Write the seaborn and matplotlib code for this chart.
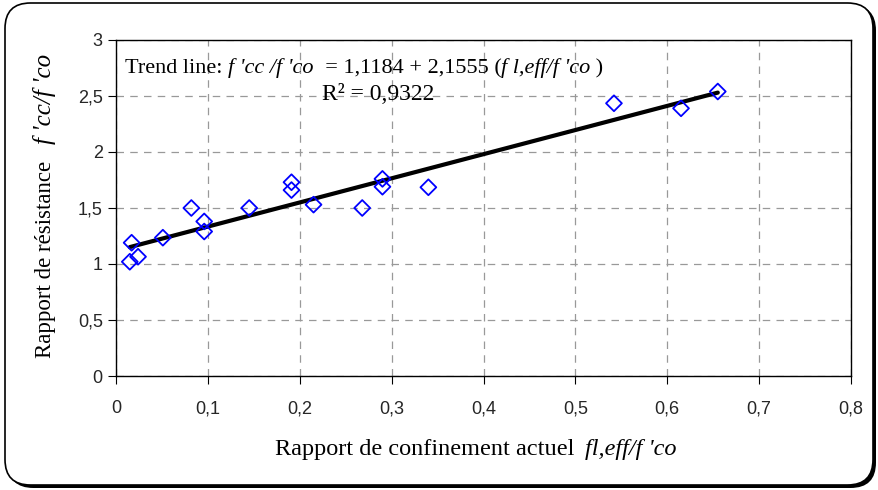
import numpy as np
import pandas as pd
import matplotlib
matplotlib.use("Agg")
import matplotlib.pyplot as plt
import seaborn as sns
from matplotlib.patches import FancyBboxPatch

# ------------------------------------------------------------------
# data
# ------------------------------------------------------------------
confinement = [0.015, 0.017, 0.024, 0.051, 0.082, 0.096, 0.096, 0.145,
               0.191, 0.191, 0.215, 0.268, 0.290, 0.290, 0.340, 0.542,
               0.615, 0.655]
resistance = [1.02, 1.19, 1.065, 1.235, 1.50, 1.38, 1.29, 1.50,
              1.73, 1.66, 1.53, 1.50, 1.76, 1.69, 1.685, 2.435,
              2.39, 2.54]
intercept = 1.1184
slope = 2.1555
r2 = "0,9322"

x_ticks = [0, 0.1, 0.2, 0.3, 0.4, 0.5, 0.6, 0.7, 0.8]
y_ticks = [0, 0.5, 1, 1.5, 2, 2.5, 3]

df = pd.DataFrame({"conf": confinement, "res": resistance})
x_fit = np.array([df["conf"].min(), df["conf"].max()])
fit = pd.DataFrame({"conf": x_fit, "res": intercept + slope * x_fit})

def virgule(v):
    return f"{v:g}".replace(".", ",")

# ------------------------------------------------------------------
# figure
# ------------------------------------------------------------------
sns.set_style("white")
plt.rcParams["font.family"] = ["Liberation Sans", "DejaVu Sans"]
serif = "Liberation Serif"

W, H = 879, 490
fig = plt.figure(figsize=(W / 100, H / 100), dpi=100)
ax = fig.add_axes([116 / W, 1 - 376 / H, 735 / W, 336 / H])

# rounded frame with a small shadow
rs = "round,pad=0,rounding_size=0.029"
shadow = FancyBboxPatch((8 / W, 1 - 488 / H), 868 / W, 483 / H,
                        boxstyle=rs, transform=fig.transFigure,
                        facecolor="black", edgecolor="none",
                        mutation_aspect=W / H, zorder=-2)
frame = FancyBboxPatch((5 / W, 1 - 485 / H), 868 / W, 482 / H,
                       boxstyle=rs, transform=fig.transFigure,
                       facecolor="white", edgecolor="black", linewidth=1.2,
                       mutation_aspect=W / H, zorder=-1)
fig.patches.extend([shadow, frame])

sns.lineplot(data=fit, x="conf", y="res", color="black", linewidth=3,
             ax=ax, zorder=3)
sns.scatterplot(data=df, x="conf", y="res", marker="D", s=65,
                facecolor="none", edgecolor="#0000ff", linewidth=1.3,
                ax=ax, zorder=4)

ax.set_xlim(0, 0.8)
ax.set_ylim(0, 3)
ax.set_xticks(x_ticks)
ax.set_yticks(y_ticks)
ax.set_xticklabels([virgule(v) for v in x_ticks])
ax.set_yticklabels([virgule(v) for v in y_ticks])
ax.tick_params(axis="both", direction="out", length=5.5, width=0.8,
               color="black", labelsize=13, left=True, bottom=True)
ax.tick_params(axis="y", pad=4)
ax.tick_params(axis="x", pad=12)
ax.grid(True, color="#999999", linestyle=(0, (6, 5)), linewidth=0.9)
for sp in ax.spines.values():
    sp.set_color("black")
    sp.set_linewidth(1.0)
ax.set_xlabel("")
ax.set_ylabel("")

# trend line text, chained pieces on one baseline
norm = dict(fontfamily=serif, fontsize=16, color="black")
ital = dict(fontfamily=serif, fontsize=16, color="black", fontstyle="italic")
pieces = [("Trend line: ", norm), ("f 'cc /f 'co", ital),
          ("  = 1,1184 + 2,1555 (", norm), ("f l,eff/f 'co", ital),
          (" )", norm)]
base_y = (376 - 73) / 336
prev = ax.text((125 - 116) / 735, base_y, pieces[0][0],
               transform=ax.transAxes, ha="left", va="baseline",
               **pieces[0][1])
for txt, props in pieces[1:]:
    prev = ax.annotate(txt, xy=(1, base_y), xycoords=(prev, "axes fraction"),
                       ha="left", va="baseline", **props)
ax.text((378 - 116) / 735, (376 - 100) / 336, f"R² = {r2}",
        transform=ax.transAxes, ha="center", va="baseline",
        **dict(norm, fontsize=17))

# x label
lab = dict(fontfamily=serif, fontsize=17.5, color="black")
labi = dict(fontfamily=serif, fontsize=17.5, color="black", fontstyle="italic")
fig.text(275 / W, 1 - 455 / H, "Rapport de confinement actuel",
         ha="left", va="baseline", **lab)
fig.text(585 / W, 1 - 455 / H, "fl,eff/f 'co", ha="left", va="baseline",
         **labi)

# y label (two parts, rotated)
fig.text(51 / W, 1 - 358 / H, "Rapport de résistance", rotation=90,
         rotation_mode="anchor", ha="left", va="baseline",
         **dict(lab, fontsize=16.5))
fig.text(51 / W, 1 - 144 / H, "f 'cc/f 'co", rotation=90,
         rotation_mode="anchor", ha="left", va="baseline",
         **dict(labi, fontsize=18))

fig.savefig("out.png", dpi=100)
